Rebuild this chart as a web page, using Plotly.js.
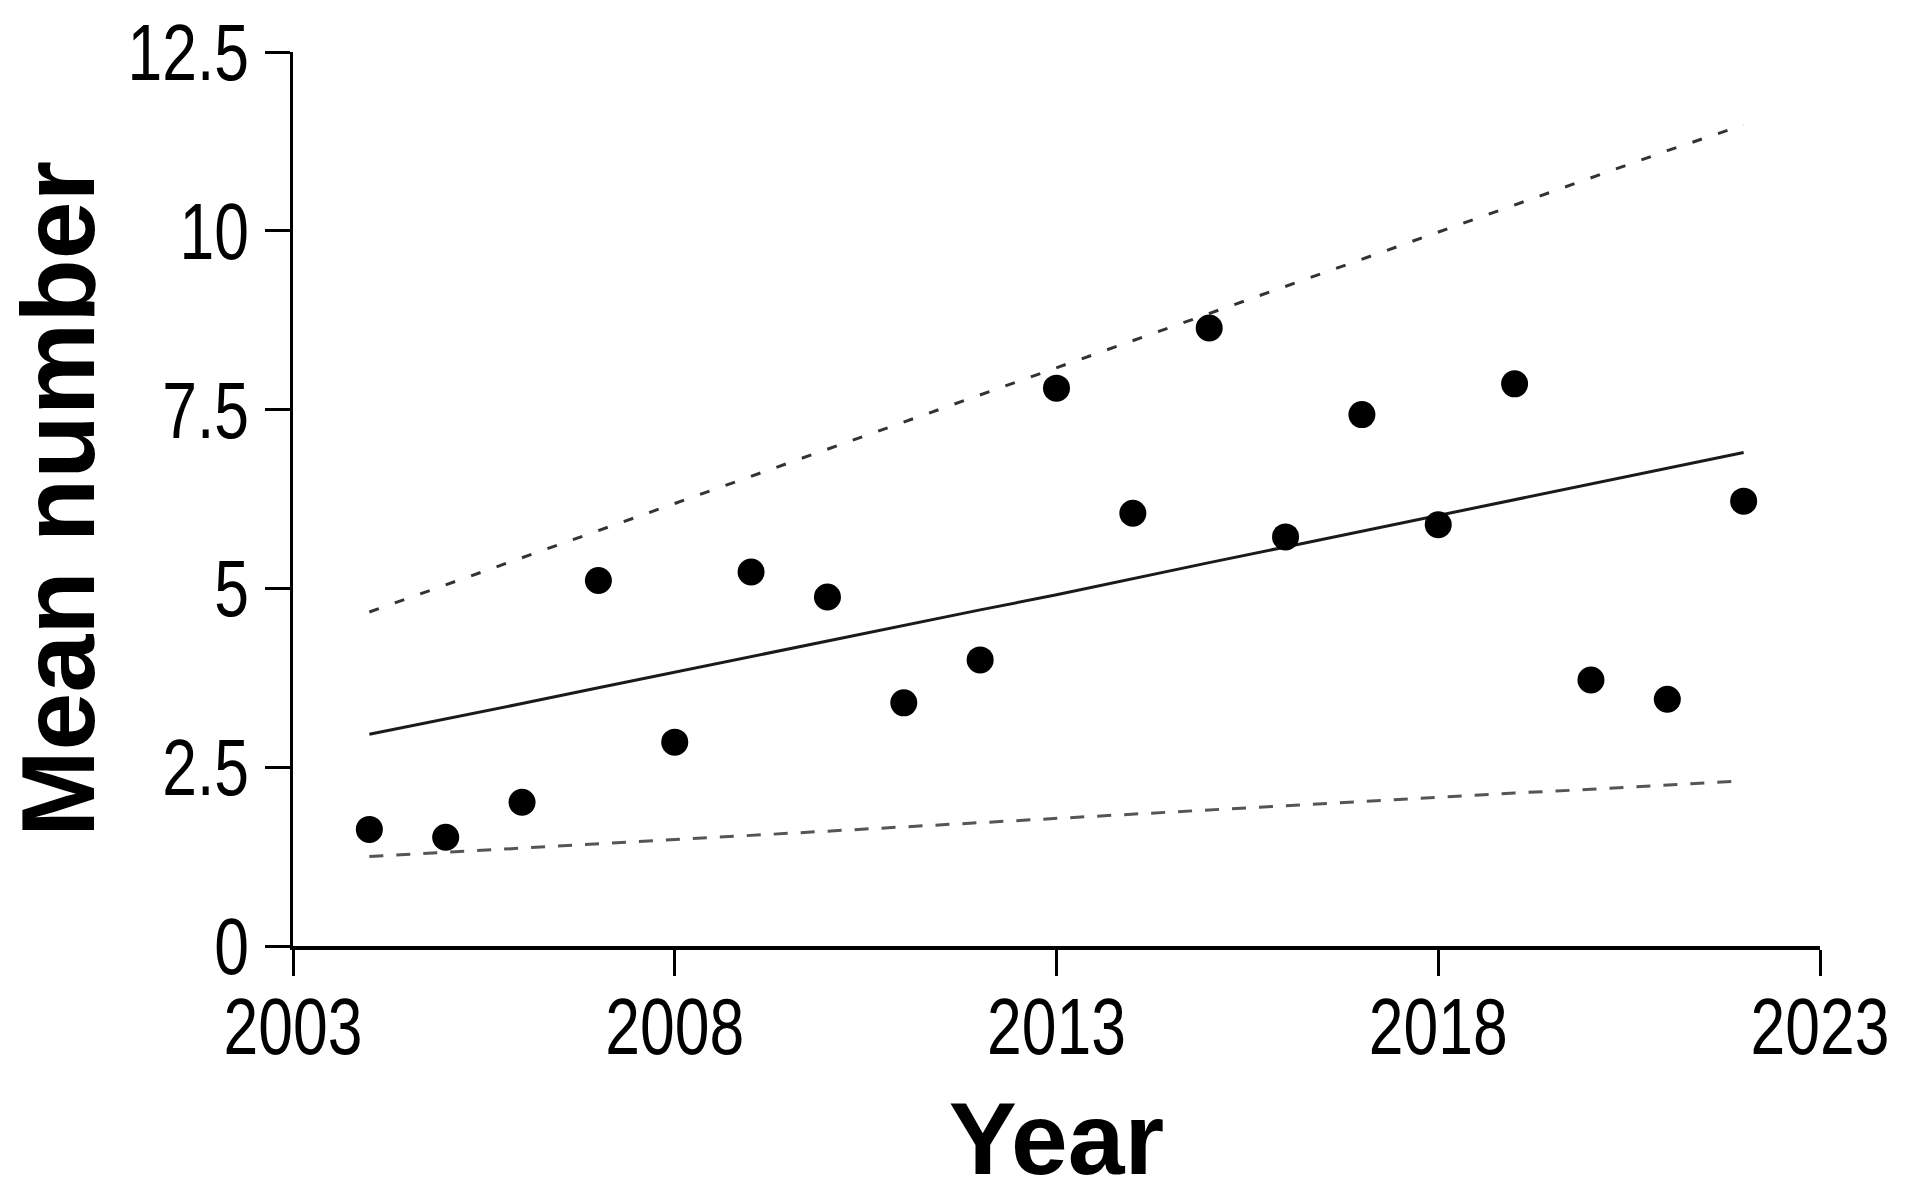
<!DOCTYPE html>
<html>
<head>
<meta charset="utf-8">
<script src="https://cdn.plot.ly/plotly-3.0.1.min.js"></script>
<style>html,body{margin:0;padding:0;background:#fff;}#chart{width:1915px;height:1196px;}</style>
</head>
<body>
<div id="chart"></div>
<script>
const years = [2004,2005,2006,2007,2008,2009,2010,2011,2012,2013,2014,2015,2016,2017,2018,2019,2020,2021,2022];
const meanNumber = [1.63,1.52,2.01,5.11,2.85,5.23,4.88,3.40,4.00,7.80,6.05,8.64,5.72,7.43,5.89,7.86,3.72,3.45,6.22];
const fitted = [2.96,3.17,3.39,3.61,3.83,4.05,4.27,4.49,4.70,4.91,5.14,5.36,5.58,5.80,6.02,6.24,6.46,6.68,6.90];
const upperCI = [4.67,5.05,5.43,5.81,6.19,6.57,6.95,7.33,7.71,8.09,8.46,8.84,9.22,9.60,9.98,10.36,10.74,11.12,11.48];
const lowerCI = [1.25,1.31,1.37,1.43,1.49,1.55,1.60,1.66,1.72,1.78,1.84,1.90,1.96,2.02,2.08,2.14,2.19,2.25,2.31];
const xTicks = [2003,2008,2013,2018,2023];
const yTicks = [0,2.5,5,7.5,10,12.5];
const yTickText = ["0","2.5","5","7.5","10","12.5"];

const sans = '"Liberation Sans", Arial, sans-serif';

const traces = [
  {x: years, y: upperCI, mode: 'lines', line: {color: '#333', width: 3, dash: '10px,17px'}, hoverinfo: 'skip'},
  {x: years, y: lowerCI, mode: 'lines', line: {color: '#555', width: 3, dash: '14px,13px'}, hoverinfo: 'skip'},
  {x: years, y: fitted, mode: 'lines', line: {color: '#1a1a1a', width: 3}, hoverinfo: 'skip'},
  {x: years, y: meanNumber, mode: 'markers', marker: {color: '#000', size: 27}, cliponaxis: false}
];

const layout = {
  width: 1915, height: 1196,
  margin: {l: 293, r: 95, t: 52, b: 250},
  paper_bgcolor: '#fff', plot_bgcolor: '#fff',
  showlegend: false,
  xaxis: {
    range: [2003, 2023], tickvals: xTicks, ticktext: xTicks.map(String),
    showgrid: false, zeroline: false, showline: true, linecolor: '#000', linewidth: 4,
    ticks: 'outside', ticklen: 26, tickwidth: 3, tickcolor: '#000',
    ticklabelstandoff: -18,
    tickfont: {family: sans, size: 80, color: '#000'},
    title: {text: 'Year', font: {family: sans, size: 102, color: '#000', weight: 'bold'}, standoff: 62}
  },
  yaxis: {
    range: [0, 12.5], tickvals: yTicks, ticktext: yTickText,
    showgrid: false, zeroline: false, showline: true, linecolor: '#000', linewidth: 3,
    ticks: 'outside', ticklen: 25, tickwidth: 3, tickcolor: '#000',
    tickfont: {family: sans, size: 80, color: '#000'},
    title: {text: 'Mean number', font: {family: sans, size: 104, color: '#000', weight: 'bold'}, standoff: 44}
  }
};

Plotly.newPlot('chart', traces, layout, {displayModeBar: false, staticPlot: true}).then(function (gd) {
  // the reference uses a condensed face for tick labels: narrow them around their anchor point
  gd.querySelectorAll('.xtick text, .ytick text').forEach(function (t) {
    const x = parseFloat(t.getAttribute('x')) || 0;
    const y = parseFloat(t.getAttribute('y')) || 0;
    const tr = t.getAttribute('transform') || '';
    t.setAttribute('transform', tr + ' translate(' + x + ',' + y + ') scale(0.78,1) translate(' + (-x) + ',' + (-y) + ')');
  });
});
</script>
</body>
</html>
